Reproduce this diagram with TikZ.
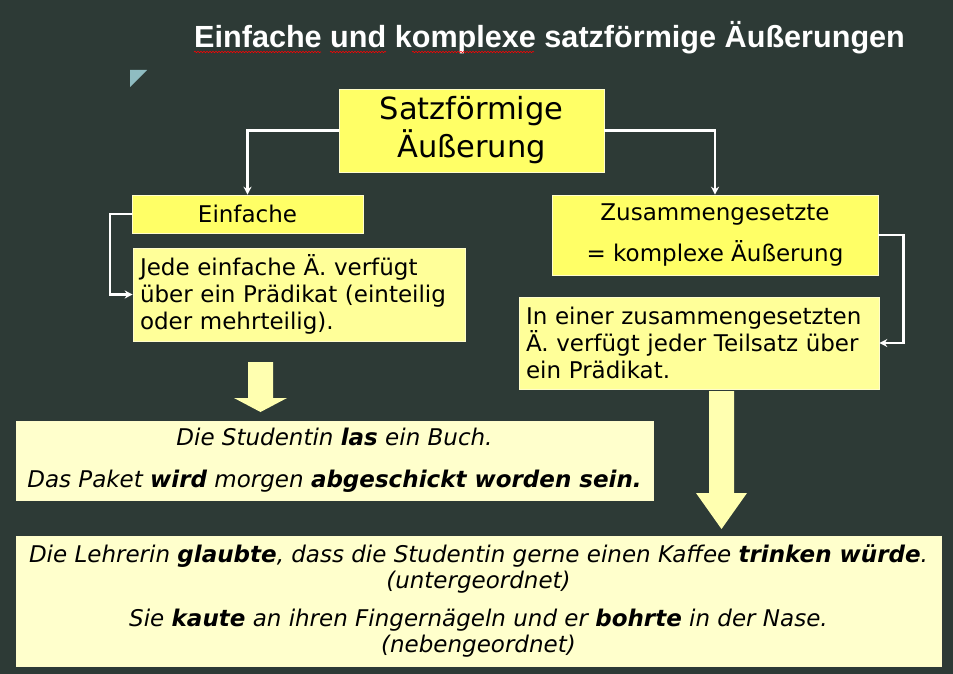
\documentclass[tikz,border=0pt]{standalone}
\usepackage{fontspec}
\setmainfont{DejaVu Sans}
\newfontfamily\titelfont{Liberation Sans}
\usetikzlibrary{arrows.meta, decorations.pathmorphing}

\definecolor{hintergrund}{RGB}{45,58,54}
\definecolor{gelbstark}{RGB}{255,255,102}
\definecolor{gelbmittel}{RGB}{255,255,153}
\definecolor{gelbhell}{RGB}{255,255,204}
\definecolor{pfeilgelb}{RGB}{255,255,176}
\definecolor{ecke}{RGB}{143,188,193}

\tikzset{
  kasten/.style={draw=white!80!yellow, line width=0.6pt, inner ysep=0pt, inner xsep=7pt,
    text=black, font=\fontsize{23}{27}\selectfont},
  linie/.style={draw=white, line width=2.4pt, -{Stealth[length=8pt,width=8pt]}},
  blockpfeil/.style={fill=pfeilgelb},
  wellen/.style={draw=red, line width=0.6pt, decorate,
    decoration={snake, amplitude=0.7pt, segment length=3pt}}
}

\begin{document}
\begin{tikzpicture}[x=1pt,y=-1pt]
  % Hintergrund
  \fill[hintergrund] (0,0) rectangle (953,674);
  \useasboundingbox (0,0) rectangle (953,674);
  \fill[ecke] (130,70) -- (147,70) -- (130,87) -- cycle;

  % Titel
  \node[anchor=base west, inner sep=0pt, text=white,
    font=\titelfont\bfseries\fontsize{30.6}{36}\selectfont] (titel) at (194,48)
    {Einfache und komplexe satzförmige Äußerungen};
  \draw[wellen] (194,52) -- (321,52);
  \draw[wellen] (330,52) -- (386,52);
  \draw[wellen] (412,52) -- (534,52);

  % Kästen
  \node[kasten, fill=gelbstark, minimum width=265pt, minimum height=83pt, align=center,
    font=\fontsize{30.5}{38}\selectfont] (satz) at (471.5,130.5) {Satzförmige\\Äußerung};
  \node[kasten, fill=gelbstark, minimum width=231pt, minimum height=38pt] (einfach) at (247.5,214) {Einfache};
  \node[kasten, fill=gelbmittel, text width=318pt, minimum height=93pt, align=left] (jede) at (299,294.5)
    {Jede einfache Ä. verfügt\\über ein Prädikat (einteilig\\oder mehrteilig).};
  \node[kasten, fill=gelbstark, minimum width=326pt, minimum height=80pt, align=center] (zusammen) at (715,235)
    {Zusammengesetzte\\[14pt]= komplexe Äußerung};
  \node[kasten, fill=gelbmittel, text width=346pt, minimum height=92pt, align=left] (teilsatz) at (699,343)
    {In einer zusammengesetzten\\Ä. verfügt jeder Teilsatz über\\ein Prädikat.};

  % Beispiele
  \node[kasten, fill=gelbhell, minimum width=637pt, minimum height=79pt, align=center,
    font=\itshape\fontsize{23}{27}\selectfont] (student) at (334.5,460.5)
    {Die Studentin \textbf{las} ein Buch.\\[15pt]Das Paket \textbf{wird} morgen \textbf{abgeschickt worden sein.}};
  \node[kasten, fill=gelbhell, minimum width=925pt, minimum height=130pt, align=center,
    font=\itshape\fontsize{23}{26}\selectfont] (lehrerin) at (478.5,601)
    {Die Lehrerin \textbf{glaubte}, dass die Studentin gerne einen Kaffee \textbf{trinken würde}.\\(untergeordnet)\\[12pt]
     Sie \textbf{kaute} an ihren Fingernägeln und er \textbf{bohrte} in der Nase.\\(nebengeordnet)};

  % Verbindungen
  \draw[linie] (satz.west) -| (einfach.north);
  \draw[linie] (satz.east) -| (zusammen.north);
  \draw[linie] (einfach.west) -- ++(-22,0) |- (jede.west);
  \draw[linie] (zusammen.east) -- ++(25,0) |- (teilsatz.east);

  % Blockpfeile
  \fill[blockpfeil] (248,362) -- (273,362) -- (273,398) -- (287,398) -- (260.5,412) -- (234,398) -- (248,398) -- cycle;
  \fill[blockpfeil] (709,391) -- (734,391) -- (734,493) -- (747,493) -- (721.5,529) -- (696,493) -- (709,493) -- cycle;
\end{tikzpicture}
\end{document}
